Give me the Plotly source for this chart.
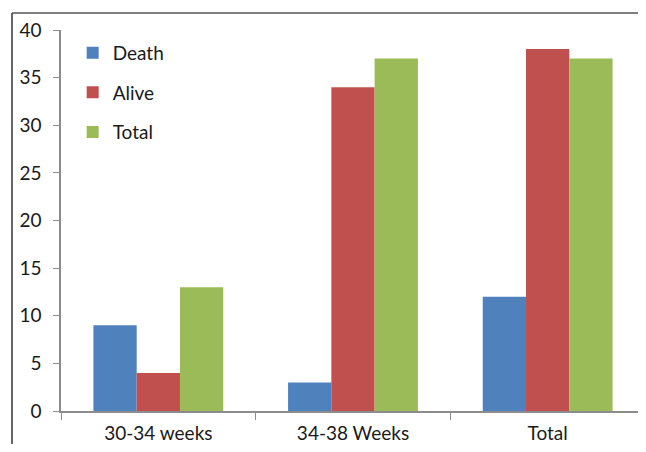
import plotly.graph_objects as go

categories = ["30-34 weeks", "34-38 Weeks", "Total"]
death = [9, 3, 12]
alive = [4, 34, 38]
total = [13, 37, 37]
series_names = ["Death", "Alive", "Total"]
colors = ["#4F81BD", "#C0504D", "#9BBB59"]
y_ticks = [0, 5, 10, 15, 20, 25, 30, 35, 40]

fig = go.Figure()
for name, vals, col in zip(series_names, [death, alive, total], colors):
    fig.add_trace(go.Bar(
        x=categories, y=vals, name=name, legendgroup=name,
        marker=dict(color=col, line=dict(width=0)),
    ))

W, H = 638, 436
L, R, T, B = 53, 1, 22, 33
pw, ph = W - L - R, H - T - B

font_family = "Lato, 'Open Sans', sans-serif"
fig.update_layout(
    width=W, height=H,
    margin=dict(l=L, r=R, t=T, b=B),
    paper_bgcolor="white", plot_bgcolor="white",
    barmode="group", bargap=0.333, bargroupgap=0,
    font=dict(family=font_family, size=19, color="#1a1a1a"),
    showlegend=True,
    legend=dict(
        x=0.02, y=0.99, xanchor="left", yanchor="top",
        bgcolor="rgba(0,0,0,0)", font=dict(size=19),
        tracegroupgap=12, itemwidth=30,
    ),
    xaxis=dict(
        showline=True, linecolor="#8c8c8c", linewidth=1.5,
        ticks="outside", tickson="boundaries", ticklen=7, tickcolor="#8c8c8c",
        showgrid=False, tickfont=dict(size=19), ticklabelstandoff=4,
        automargin=False,
    ),
    yaxis=dict(
        range=[0, 40], tickvals=y_ticks,
        showline=True, linecolor="#8c8c8c", linewidth=1.5,
        ticks="outside", ticklen=6, tickcolor="#8c8c8c",
        showgrid=False, zeroline=False, tickfont=dict(size=19),
        ticklabelstandoff=8, automargin=False,
    ),
    shapes=[
        dict(type="line", xref="paper", yref="paper",
             x0=-49 / pw, x1=1.01, y0=(H - B - 5) / ph, y1=(H - B - 5) / ph,
             line=dict(color="#555555", width=1.5)),
        dict(type="line", xref="paper", yref="paper",
             x0=-49 / pw, x1=-49 / pw, y0=-0.2, y1=(H - B - 5) / ph,
             line=dict(color="#333333", width=1.5)),
    ],
)

fig.write_html("out.html")
